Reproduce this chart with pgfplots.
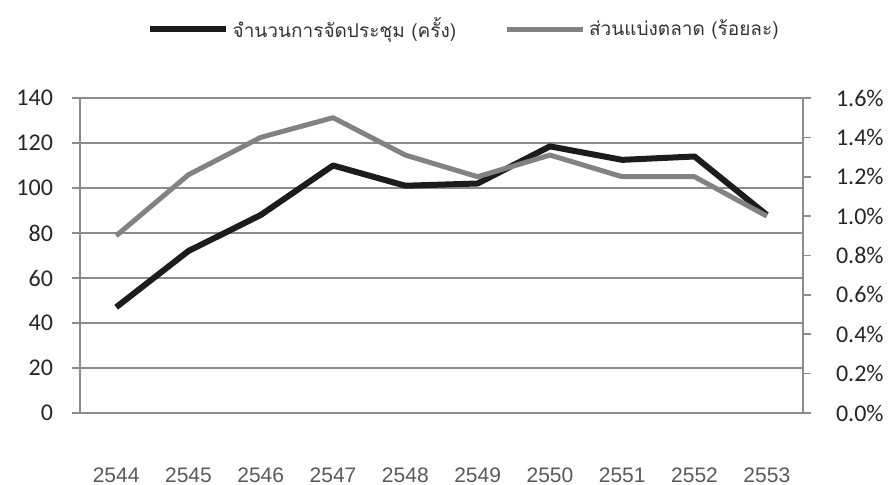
\documentclass[border=0pt]{standalone}
\usepackage{fontspec}
\setmainfont{Carlito}
\newfontfamily\thaifont[Script=Thai]{Loma}
\newfontfamily\yearfont{Liberation Sans}
\usepackage{pgfplots}
\pgfplotsset{compat=1.18}

\definecolor{countline}{HTML}{1C1C1C}
\definecolor{shareline}{HTML}{828282}
\definecolor{gridgray}{HTML}{8C8C8C}

\begin{document}
\begin{tikzpicture}
\path[use as bounding box] (-40pt,-36pt) rectangle (405pt,206.5pt);

% left axis: number of meetings
\begin{axis}[
  at={(0pt,0pt)}, anchor=south west,
  scale only axis, width=361.5pt, height=157.5pt,
  xmin=-0.5, xmax=9.5, ymin=0, ymax=140,
  axis x line*=bottom, axis y line*=left,
  axis line style={draw=gridgray, line width=1pt, -},
  xtick={0,1,2,3,4,5,6,7,8,9},
  xticklabels={2544,2545,2546,2547,2548,2549,2550,2551,2552,2553},
  xtick style={draw=none},
  minor xtick={-0.5,0.5,1.5,2.5,3.5,4.5,5.5,6.5,7.5,8.5,9.5},
  minor tick length=6pt,
  xticklabel style={font=\yearfont\fontsize{10.5}{12}\selectfont, text=black!65, yshift=-20pt},
  ytick={0,20,40,60,80,100,120,140},
  ymajorgrids, grid style={gridgray, line width=0.8pt},
  tick align=outside, major tick length=4pt,
  tick style={gridgray, line width=0.8pt},
  yticklabel style={font=\fontsize{12}{14}\selectfont, text=black!85, xshift=-6pt},
  /pgf/number format/assume math mode=true,
  legend columns=2,
  legend style={at={(0.532,1.219)}, anchor=center, draw=none, fill=none,
    font=\thaifont\fontsize{9.5}{11}\selectfont, text=black!80,
    /tikz/every even column/.append style={column sep=22pt}},
  legend image code/.code={\draw[#1] (0pt,0pt) -- (38pt,0pt);},
]
\addplot[countline, line width=3pt, line join=round] coordinates {
  (0,47) (1,72) (2,88) (3,110) (4,101) (5,102) (6,118.5) (7,112.5) (8,114) (9,88)
};
\addlegendentry{จำนวนการจัดประชุม (ครั้ง)}
\addlegendimage{shareline, line width=2.5pt}
\addlegendentry{ส่วนแบ่งตลาด (ร้อยละ)}
\end{axis}

% right axis: market share (%)
\begin{axis}[
  at={(0pt,0pt)}, anchor=south west,
  scale only axis, width=361.5pt, height=157.5pt,
  xmin=-0.5, xmax=9.5, ymin=0, ymax=1.6,
  hide x axis,
  axis y line*=right,
  axis line style={draw=gridgray, line width=1pt, -},
  ytick={0,0.2,0.4,0.6,0.8,1.0,1.2,1.4,1.6},
  yticklabel={\pgfmathprintnumber[fixed,fixed zerofill,precision=1]{\tick}\%},
  tick align=outside, major tick length=4pt,
  tick style={gridgray, line width=0.8pt},
  yticklabel style={font=\fontsize{12}{14}\selectfont, text=black!85, xshift=9pt},
  /pgf/number format/assume math mode=true,
]
\addplot[shareline, line width=2.5pt, line join=round] coordinates {
  (0,0.90) (1,1.21) (2,1.40) (3,1.50) (4,1.31) (5,1.20) (6,1.31) (7,1.20) (8,1.20) (9,1.00)
};
\end{axis}
\end{tikzpicture}
\end{document}
